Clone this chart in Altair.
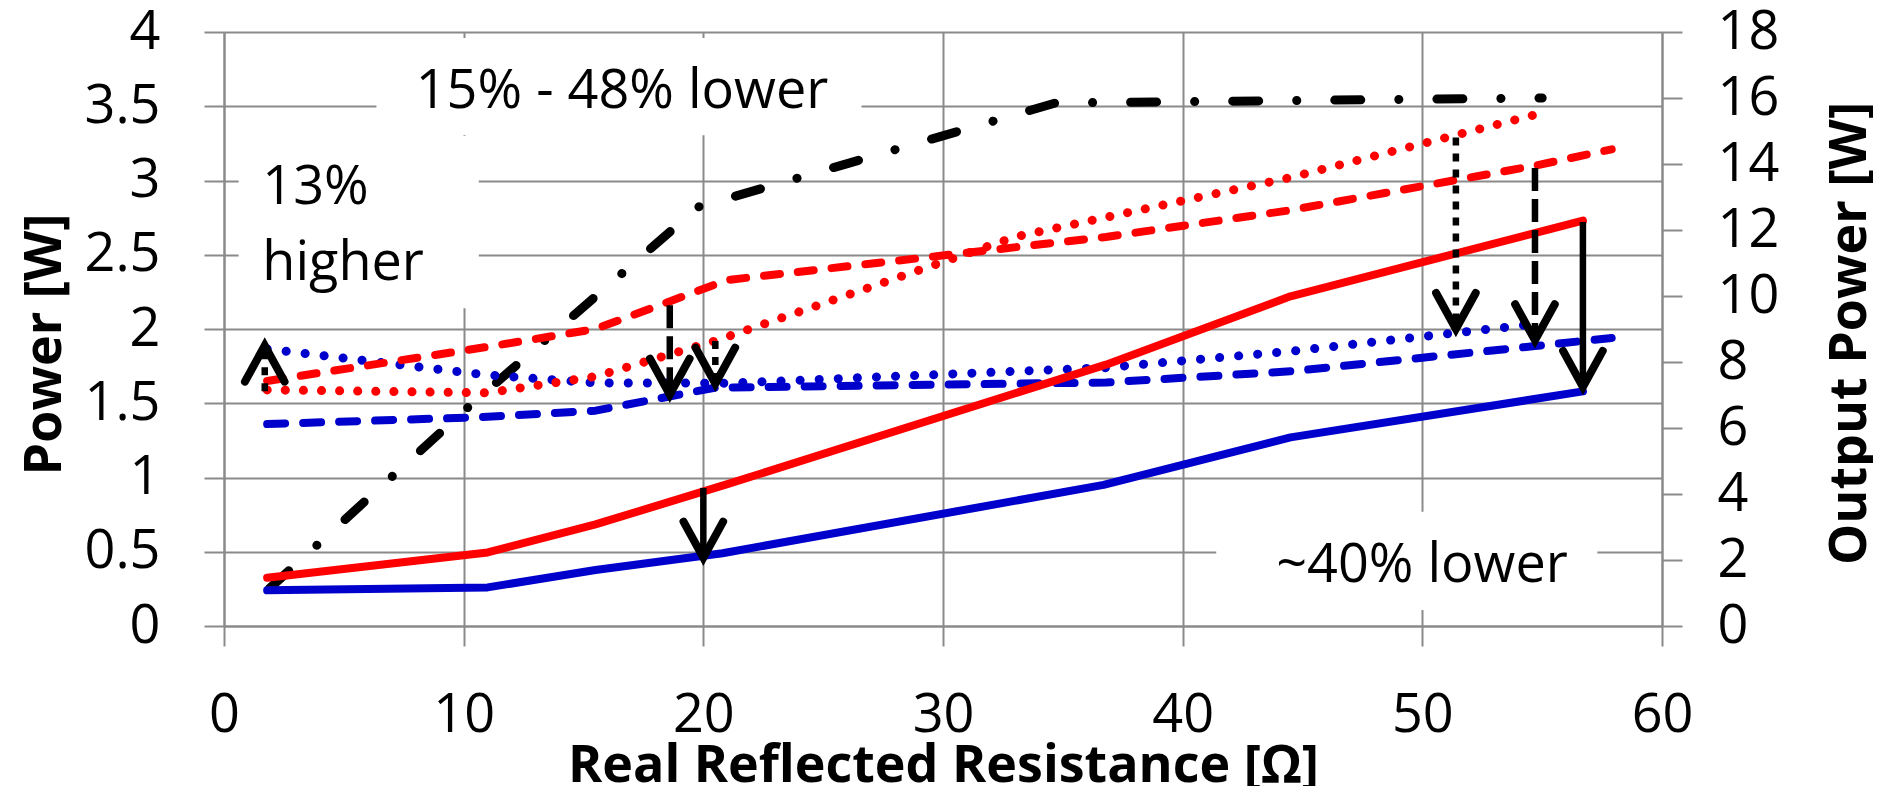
import altair as alt
import pandas as pd

FONT = "Open Sans"
GRID = "#8a8a8a"
RED = "#ff0000"
BLUE = "#0000cc"

# ---- data ----
red_solid_x = [1.8, 11.0, 15.5, 21.0, 36.8, 44.5, 56.7]
red_solid_y = [0.325, 0.495, 0.684, 0.955, 1.76, 2.22, 2.73]
blue_solid_x = [1.8, 11.0, 15.5, 20.8, 36.7, 44.5, 56.7]
blue_solid_y = [0.24, 0.26, 0.377, 0.49, 0.95, 1.27, 1.58]
red_dash_x = [1.8, 11.0, 15.5, 21.0, 36.8, 44.5, 54.7, 57.9]
red_dash_y = [1.65, 1.88, 2.00, 2.33, 2.62, 2.80, 3.10, 3.21]
blue_dash_x = [1.8, 10.5, 15.5, 20.5, 36.8, 44.5, 54.7, 57.9]
blue_dash_y = [1.36, 1.405, 1.45, 1.605, 1.64, 1.715, 1.885, 1.94]
red_dot_x = [1.8, 11.0, 15.5, 20.5, 33.0, 44.5, 55.0]
red_dot_y = [1.59, 1.57, 1.68, 1.92, 2.62, 3.02, 3.455]
blue_dot_x = [1.8, 11.0, 15.5, 21.0, 36.8, 44.5, 54.5]
blue_dot_y = [1.865, 1.69, 1.637, 1.635, 1.74, 1.85, 2.03]
out_x = [1.9, 10.2, 19.8, 34.7, 55.0]
out_w = [1.14, 6.64, 12.7, 15.85, 16.0]

arrow_x = [20.0, 18.6, 20.5, 51.4, 54.7, 56.7, 1.7]
arrow_from = [0.93, 2.16, 1.92, 3.29, 3.085, 2.72, 1.58]
arrow_to = [0.46, 1.558, 1.632, 2.00, 1.924, 1.61, 1.888]
arrow_style = ["solid", "dashed", "dotted", "dotted", "dashed", "solid", "dotted"]

note_text = ["15% - 48% lower", "13%", "higher", "~40% lower"]
note_x = [8.0, 1.6, 1.6, 43.9]
note_y = [3.49, 2.845, 2.33, 0.298]

box_x1 = [6.36, 0.61, 41.4]
box_x2 = [26.6, 10.63, 57.3]
box_y1 = [3.305, 2.14, 0.108]
box_y2 = [3.96, 3.30, 0.77]

x_ticks = [0, 10, 20, 30, 40, 50, 60]
yl_ticks = [0, 0.5, 1, 1.5, 2, 2.5, 3, 3.5, 4]
yr_ticks = [0, 2, 4, 6, 8, 10, 12, 14, 16, 18]

# ---- tables ----
def series(name, xs, ys):
    return pd.DataFrame({"series": name, "x": xs, "y": ys})

lines = pd.concat([
    series("red_solid", red_solid_x, red_solid_y),
    series("blue_solid", blue_solid_x, blue_solid_y),
    series("red_dash", red_dash_x, red_dash_y),
    series("blue_dash", blue_dash_x, blue_dash_y),
    series("red_dot", red_dot_x, red_dot_y),
    series("blue_dot", blue_dot_x, blue_dot_y),
])
out_df = pd.DataFrame({"x": out_x, "w": out_w})
arrows = pd.DataFrame({"x": arrow_x, "y1": arrow_from, "y2": arrow_to, "style": arrow_style})
arrows["dir"] = ["down" if b < a else "up" for a, b in zip(arrow_from, arrow_to)]
notes = pd.DataFrame({"text": note_text, "x": note_x, "y": note_y})
boxes = pd.DataFrame({"x1": box_x1, "x2": box_x2, "y1": box_y1, "y2": box_y2})

common = dict(gridColor=GRID, gridWidth=2, domainColor=GRID, domainWidth=2,
              tickColor=GRID, tickWidth=2, tickSize=20,
              labelFont=FONT, labelFontSize=54, labelColor="black",
              labelFlush=False, labelOverlap=False, labelBound=False,
              titleFont=FONT, titleFontSize=52, titleFontWeight="bold", titleColor="black")

x_axis = alt.Axis(values=x_ticks, orient="bottom", grid=True, labelPadding=85,
                  labelBaseline="alphabetic", title="Real Reflected Resistance [Ω]",
                  titleX=719, titleY=155, titleBaseline="alphabetic", titleAlign="center",
                  **common)
yl_axis = alt.Axis(values=yl_ticks, format="~g", orient="left", grid=True, labelPadding=44,
                   title="Power [W]", titleAngle=270, titleX=-164, titleY=312,
                   titleAlign="center", titleBaseline="alphabetic", **common)
yr_axis = alt.Axis(values=yr_ticks, format="~g", orient="right", grid=False, labelPadding=35,
                   title="Output Power [W]", titleAngle=270, titleX=203, titleY=301,
                   titleAlign="center", titleBaseline="alphabetic", **common)

xs = alt.Scale(domain=[0, 60], nice=False)
yls = alt.Scale(domain=[0, 4], nice=False)
yrs = alt.Scale(domain=[0, 18], nice=False)

X = alt.X("x:Q", scale=xs, axis=x_axis)
YL = alt.Y("y:Q", scale=yls, axis=yl_axis)

# output power (right axis)
black = alt.Chart(out_df).mark_line(color="black", strokeWidth=9, strokeDash=[26, 38, 0.1, 38],
                                   strokeCap="round").encode(
    x=X, y=alt.Y("w:Q", scale=yrs, axis=yr_axis))

box_layer = alt.Chart(boxes).mark_rect(color="white").encode(
    x=alt.X("x1:Q", scale=xs, axis=x_axis), x2="x2:Q",
    y=alt.Y("y1:Q", scale=yls, axis=yl_axis), y2="y2:Q")

styles = {
    "blue_dash": (BLUE, 8, [18, 18]),
    "blue_dot": (BLUE, 9, [0.1, 19]),
    "red_dash": (RED, 8, [16, 18]),
    "red_dot": (RED, 9, [0.1, 18]),
    "blue_solid": (BLUE, 8, None),
    "red_solid": (RED, 8, None),
}
line_layers = []
for name, (col, w, dash) in styles.items():
    kw = dict(color=col, strokeWidth=w, strokeCap="round", strokeJoin="round")
    if dash:
        kw["strokeDash"] = dash
    line_layers.append(
        alt.Chart(lines).transform_filter(alt.datum.series == name)
        .mark_line(**kw).encode(x=X, y=YL, order="x:Q"))

dash_of = {"solid": None, "dashed": [23, 8], "dotted": [8, 8]}
arrow_layers = []
for st, dash in dash_of.items():
    kw = dict(color="black", strokeWidth=6.5, strokeCap="butt")
    if dash:
        kw["strokeDash"] = dash
    arrow_layers.append(
        alt.Chart(arrows).transform_filter(alt.datum.style == st)
        .mark_rule(**kw).encode(x=X, y=alt.Y("y1:Q", scale=yls, axis=yl_axis), y2="y2:Q"))

head_down = alt.Chart(arrows).transform_filter(alt.datum.dir == "down").mark_point(
    shape="M -0.55 -1 L 0 0 L 0.55 -1", size=5184, filled=False, strokeWidth=8,
    color="black", opacity=1, strokeCap="round", strokeJoin="miter").encode(
    x=X, y=alt.Y("y2:Q", scale=yls, axis=yl_axis))
head_up = alt.Chart(arrows).transform_filter(alt.datum.dir == "up").mark_point(
    shape="M -0.55 1 L 0 0 L 0.55 1", size=5184, filled=False, strokeWidth=8,
    color="black", opacity=1, strokeCap="round", strokeJoin="miter").encode(
    x=X, y=alt.Y("y2:Q", scale=yls, axis=yl_axis))

text_layer = alt.Chart(notes).mark_text(align="left", baseline="alphabetic", font=FONT,
                                        fontSize=54, color="black").encode(
    x=X, y=YL, text="text:N")

left = alt.layer(box_layer, *line_layers, *arrow_layers, head_down, head_up, text_layer)

chart = alt.layer(black, left).resolve_scale(y="independent").properties(
    width=1438, height=594,
    autosize=alt.AutoSizeParams(type="none"),
    padding={"left": 216, "top": 24, "right": 211, "bottom": 160},
).configure_view(stroke=None)

chart.save("out.html", embed_options={"renderer": "svg", "actions": False})
